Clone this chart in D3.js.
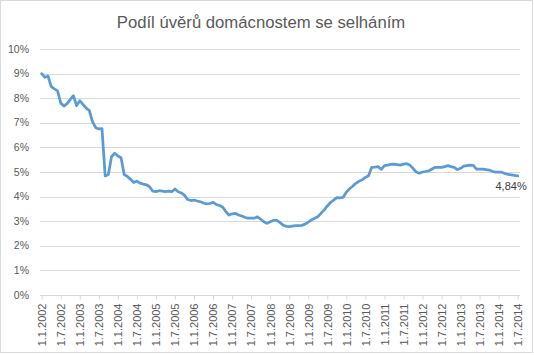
<!DOCTYPE html>
<html><head><meta charset="utf-8">
<script src="https://cdn.jsdelivr.net/npm/d3@7"></script>
<style>html,body{margin:0;padding:0;background:#fff;}svg{display:block;}</style>
</head><body>
<svg id="chart" width="534" height="355"></svg>
<script>
const title = "Podíl úvěrů domácnostem se selháním";
const startYear = 2002;
// monthly values in %, Jan 2002 .. Jul 2014
const values = [
9.00,8.85,8.90,8.47,8.38,8.30,7.80,7.68,7.78,7.95,8.10,7.70,
7.90,7.75,7.60,7.50,7.05,6.80,6.75,6.76,4.84,4.90,5.62,5.76,
5.65,5.58,4.90,4.82,4.70,4.57,4.63,4.55,4.51,4.48,4.40,4.22,
4.20,4.24,4.22,4.20,4.22,4.20,4.31,4.20,4.15,4.05,3.88,3.84,
3.86,3.82,3.79,3.74,3.70,3.72,3.77,3.68,3.64,3.58,3.40,3.25,
3.30,3.32,3.25,3.21,3.16,3.12,3.12,3.12,3.18,3.08,2.98,2.91,
2.98,3.03,3.04,2.95,2.85,2.79,2.78,2.80,2.82,2.82,2.83,2.88,
2.96,3.05,3.12,3.18,3.32,3.45,3.62,3.76,3.86,3.96,3.95,3.97,
4.18,4.32,4.42,4.54,4.62,4.68,4.78,4.85,5.19,5.20,5.22,5.11,
5.26,5.28,5.31,5.32,5.30,5.28,5.32,5.34,5.28,5.15,5.00,4.95,
5.00,5.02,5.05,5.12,5.19,5.19,5.19,5.22,5.26,5.22,5.19,5.10,
5.15,5.24,5.26,5.28,5.27,5.12,5.12,5.12,5.10,5.08,5.03,4.99,
4.99,4.99,4.94,4.90,4.88,4.86,4.84
];
const tickLabels = ["1.1.2002","1.7.2002","1.1.2003","1.7.2003","1.1.2004","1.7.2004","1.1.2005","1.7.2005","1.1.2006","1.7.2006","1.1.2007","1.7.2007","1.1.2008","1.7.2008","1.1.2009","1.7.2009","1.1.2010","1.7.2010","1.1.2011","1.7.2011","1.1.2012","1.7.2012","1.1.2013","1.7.2013","1.1.2014","1.7.2014"];
const yTicks = [0,1,2,3,4,5,6,7,8,9,10];
const lastLabel = "4,84%";

const categories = values.map((v,i)=>{
  const y = startYear + Math.floor(i/12), m = i%12 + 1;
  return "1." + m + "." + y;
});
const data = categories.map((c,i)=>({c, v: values[i]}));

const svg = d3.select("#chart");
const font = "'Liberation Sans', Arial, sans-serif";

svg.append("rect").attr("x",0.5).attr("y",0.5).attr("width",532).attr("height",352)
  .attr("fill","#fff").attr("stroke","#d9d9d9");

const x = d3.scalePoint().domain(categories).range([41.7, 517.7]);
const y = d3.scaleLinear().domain([0,10]).range([295, 49]);

// gridlines
svg.append("g").selectAll("line").data(yTicks.filter(d=>d>0)).join("line")
  .attr("x1",40).attr("x2",520)
  .attr("y1",d=>Math.round(y(d))+0.5).attr("y2",d=>Math.round(y(d))+0.5)
  .attr("stroke","#d9d9d9").attr("stroke-width",1);

// y labels
svg.append("g").selectAll("text").data(yTicks).join("text")
  .attr("x",29).attr("y",d=>y(d)).attr("dy","0.35em")
  .attr("text-anchor","end").attr("font-family",font).attr("font-size",10.5)
  .attr("fill","#595959").text(d=>d+"%");

// x axis
const xAxis = d3.axisBottom(x).tickValues(tickLabels).tickSize(4).tickSizeOuter(0);
const gx = svg.append("g").attr("transform","translate(0,295.5)").call(xAxis);
gx.select(".domain").attr("stroke","#d9d9d9").attr("d","M40,0H520");
gx.selectAll(".tick line").attr("stroke","#d9d9d9");
gx.selectAll(".tick text")
  .attr("font-family",font).attr("font-size",11).attr("fill","#595959")
  .attr("transform","rotate(-90)").attr("text-anchor","end")
  .attr("x",-8).attr("y",0).attr("dy","0.35em");

// line
const line = d3.line().x(d=>x(d.c)).y(d=>y(d.v));
svg.append("path").datum(data).attr("d",line)
  .attr("fill","none").attr("stroke","#5b9bd5").attr("stroke-width",2.75)
  .attr("stroke-linejoin","round").attr("stroke-linecap","round");

// data label
const last = data[data.length-1];
svg.append("text").attr("x",x(last.c)+9).attr("y",y(last.v)+14)
  .attr("text-anchor","end").attr("font-family",font).attr("font-size",11)
  .attr("fill","#404040").text(lastLabel);

// title
svg.append("text").attr("x",261).attr("y",28).attr("text-anchor","middle")
  .attr("font-family",font).attr("font-size",16.7).attr("fill","#595959").text(title);
</script>
</body></html>
